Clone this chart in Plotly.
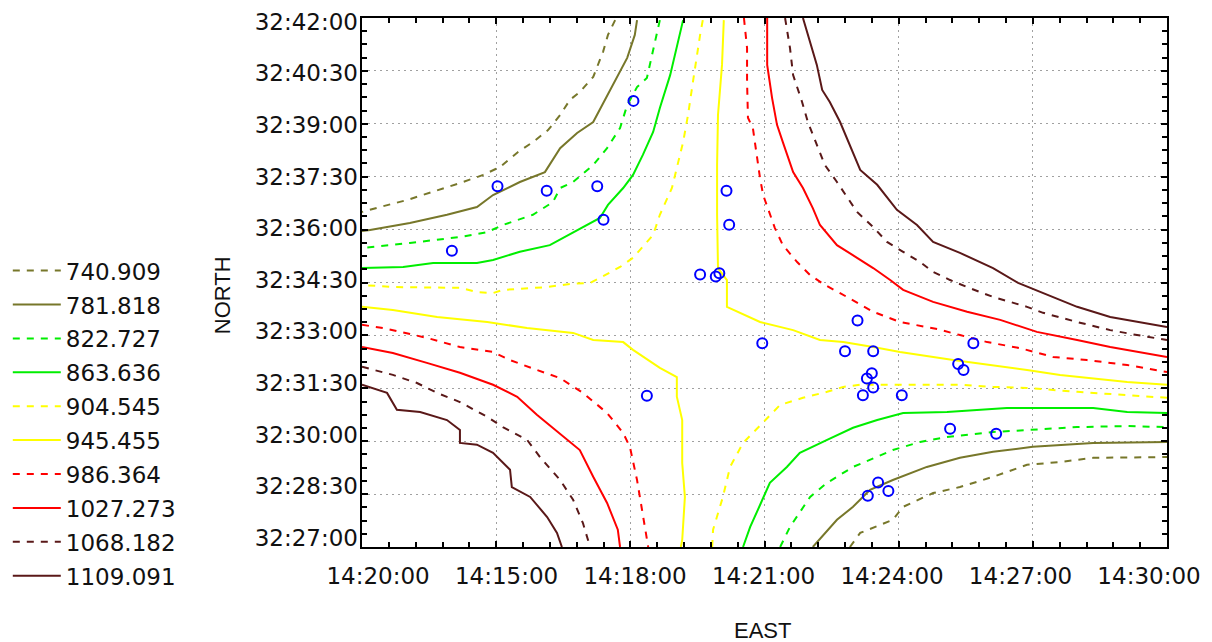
import plotly.graph_objects as go

# ---------------- data (EAST / NORTH in arc-minutes past 14° / 32°) ----------------
LEVELS = [740.909, 781.818, 822.727, 863.636, 904.545,
          945.455, 986.364, 1027.273, 1068.182, 1109.091]

# each contour level: two branches separated by None
c740_east = [17.66, 17.50, 17.39, 17.17, 16.87, 16.65, 16.43, 16.16, 15.82, 15.49, 15.09, 14.71, 14.19, 13.59, 13.01, 12.40, 12.00, None,
             22.91, 23.14, 23.87, 24.10, 24.77, 25.37, 26.11, 26.87, 27.61, 28.35, 30.00]
c740_north = [41.94, 41.52, 41.04, 40.33, 39.90, 39.68, 39.25, 38.82, 38.48, 38.20, 37.78, 37.55, 37.32, 37.07, 36.84, 36.64, 36.50, None,
              27.00, 27.40, 27.77, 28.14, 28.53, 28.70, 28.99, 29.33, 29.41, 29.53, 29.55]

c781_east = [18.15, 18.10, 17.93, 17.61, 17.17, 16.81, 16.43, 16.09, 15.53, 14.93, 14.57, 13.90, 13.07, 12.18, 12.00, None,
             22.08, 22.62, 22.98, 23.36, 23.87, 24.63, 25.37, 26.11, 27.00, 28.35, 30.00]
c781_north = [41.94, 41.52, 40.87, 40.10, 39.05, 38.74, 38.31, 37.63, 37.35, 36.98, 36.64, 36.42, 36.19, 35.99, 35.96, None,
              27.00, 27.77, 28.14, 28.62, 28.90, 29.27, 29.53, 29.70, 29.84, 29.95, 29.98]

c822_east = [18.66, 18.55, 18.37, 18.15, 17.93, 17.77, 17.48, 17.17, 16.72, 16.43, 16.27, 15.82, 15.15, 14.80, 14.19, 13.07, 12.00, None,
             21.35, 21.57, 22.02, 22.40, 22.98, 23.36, 23.87, 24.48, 25.08, 26.11, 27.23, 27.99, 29.11, 30.00]
c822_north = [41.94, 41.32, 40.30, 40.04, 39.53, 38.88, 38.31, 37.83, 37.35, 37.18, 36.78, 36.42, 36.13, 35.93, 35.79, 35.62, 35.48, None,
              27.00, 27.57, 28.42, 28.82, 29.27, 29.47, 29.75, 29.98, 30.12, 30.26, 30.35, 30.40, 30.43, 30.40]

c863_east = [19.18, 19.07, 18.89, 18.66, 18.51, 18.28, 18.06, 17.84, 17.50, 17.32, 16.72, 16.20, 15.53, 14.93, 14.57, 13.59, 12.92, 12.00, None,
             20.52, 20.68, 20.90, 21.12, 21.50, 21.79, 22.40, 22.98, 23.52, 24.10, 25.08, 26.42, 28.35, 29.11, 30.00]
c863_north = [41.94, 41.32, 40.38, 39.45, 38.77, 38.12, 37.55, 37.18, 36.70, 36.33, 35.93, 35.56, 35.37, 35.14, 35.05, 35.05, 34.94, 34.91, None,
              27.00, 27.57, 28.19, 28.82, 29.27, 29.67, 30.04, 30.38, 30.60, 30.80, 30.83, 30.94, 30.94, 30.83, 30.80]

c904_east = [19.62, 19.56, 19.40, 19.29, 19.18, 19.04, 18.93, 18.66, 18.51, 18.06, 17.77, 17.32, 17.10, 16.65, 16.14, 15.15, 14.93, 14.57, 14.19, 12.69, 12.00, None,
             19.83, 19.85, 20.07, 20.23, 20.52, 21.01, 21.35, 21.86, 22.40, 22.76, 23.14, 23.87, 25.37, 26.11, 26.87, 27.99, 29.11, 30.00]
c904_north = [41.94, 41.52, 40.19, 39.25, 38.48, 37.75, 37.18, 36.42, 35.85, 35.20, 34.94, 34.63, 34.49, 34.46, 34.37, 34.29, 34.20, 34.23, 34.35, 34.37, 34.43, None,
              27.00, 27.49, 28.42, 29.27, 29.95, 30.60, 31.03, 31.23, 31.40, 31.54, 31.60, 31.60, 31.60, 31.54, 31.51, 31.40, 31.31, 31.23]

c945_east = [20.09, 20.05, 19.96, 19.94, 19.94, 19.96, 20.16, 20.16, 20.90, 21.64, 22.24, 22.76, 23.43, 24.03, 25.22, 26.11, 26.87, 27.61, 28.35, 29.11, 30.00, None,
             12.00, 12.69, 13.68, 14.80, 15.69, 16.72, 17.17, 17.84, 18.06, 18.66, 19.04, 19.04, 19.16, 19.16, 19.22, 19.16, 19.13]
c945_north = [41.94, 40.67, 39.25, 37.83, 36.42, 34.91, 34.57, 33.81, 33.38, 33.15, 32.87, 32.81, 32.67, 32.53, 32.30, 32.16, 32.02, 31.88, 31.79, 31.68, 31.60, None,
              33.81, 33.72, 33.52, 33.38, 33.21, 33.07, 32.87, 32.81, 32.59, 32.08, 31.82, 31.26, 30.60, 29.38, 28.42, 27.20, 27.00]

c986_east = [20.54, 20.61, 20.61, 20.63, 20.74, 20.83, 20.90, 20.97, 21.12, 21.23, 21.41, 21.73, 22.02, 22.35, 22.69, 23.09, 23.43, 24.03, 24.86, 25.37, 25.98, 26.71, 27.45, 28.21, 29.11, 30.00, None,
             12.00, 12.47, 13.45, 14.19, 14.93, 15.31, 15.91, 16.43, 16.94, 17.48, 17.84, 17.99, 18.15, 18.28, 18.40]
c986_north = [42.00, 41.15, 40.19, 39.17, 38.88, 38.03, 37.46, 36.98, 36.47, 36.05, 35.56, 35.08, 34.71, 34.43, 34.20, 33.92, 33.67, 33.38, 33.18, 33.01, 32.81, 32.64, 32.39, 32.30, 32.16, 31.96, None,
              33.30, 33.21, 32.93, 32.67, 32.53, 32.30, 32.02, 31.79, 31.37, 30.80, 30.23, 29.84, 28.90, 27.97, 27.00]

c1027_east = [21.06, 21.06, 21.17, 21.28, 21.41, 21.64, 21.86, 22.08, 22.24, 22.62, 23.07, 23.43, 23.81, 24.10, 24.77, 25.53, 26.27, 27.09, 27.99, 28.73, 30.00, None,
              12.00, 12.69, 13.45, 14.19, 14.93, 15.47, 15.91, 16.58, 16.87, 17.17, 17.48, 17.72, 17.77]
c1027_north = [42.00, 40.67, 39.73, 38.97, 38.48, 37.63, 37.18, 36.61, 36.13, 35.56, 35.20, 34.91, 34.57, 34.29, 33.95, 33.67, 33.44, 33.10, 32.87, 32.67, 32.39, None,
               32.67, 32.50, 32.22, 31.94, 31.60, 31.26, 30.75, 30.04, 29.75, 28.99, 28.25, 27.49, 27.00]

c1068_east = [21.46, 21.57, 21.64, 21.84, 21.97, 22.20, 22.35, 22.62, 22.84, 23.07, 23.43, 23.74, 24.10, 24.48, 24.77, 25.15, 25.53, 26.11, 26.87, 27.23, 27.99, 28.73, 29.33, 30.00, None,
              12.00, 12.69, 13.23, 13.68, 14.19, 14.80, 15.15, 15.69, 15.98, 16.43, 16.72, 16.94, 17.10]
c1068_north = [42.00, 41.15, 40.38, 39.62, 39.05, 38.31, 37.83, 37.35, 36.93, 36.50, 36.07, 35.65, 35.37, 35.08, 34.80, 34.57, 34.37, 34.09, 33.81, 33.64, 33.38, 33.15, 33.01, 32.87, None,
               32.11, 31.88, 31.65, 31.37, 31.11, 30.69, 30.40, 30.04, 29.55, 28.90, 28.34, 27.68, 27.00]

c1109_east = [21.86, 22.02, 22.17, 22.29, 22.46, 22.69, 22.91, 23.14, 23.52, 23.96, 24.41, 24.77, 25.37, 26.11, 26.67, 27.23, 27.99, 28.73, 29.33, 30.00, None,
              12.00, 12.56, 12.78, 13.30, 13.90, 14.19, 14.19, 14.57, 14.93, 15.31, 15.35, 15.76, 16.14, 16.36, 16.47]
c1109_north = [42.00, 41.32, 40.67, 39.96, 39.62, 39.05, 38.40, 37.69, 37.27, 36.56, 36.13, 35.65, 35.34, 34.91, 34.49, 34.20, 33.81, 33.52, 33.38, 33.24, None,
               31.60, 31.37, 30.89, 30.83, 30.60, 30.32, 29.95, 29.90, 29.67, 29.19, 28.70, 28.42, 27.85, 27.40, 27.00]

# sample stations
station_east = [18.07, 15.03, 16.13, 17.26, 17.40, 14.01, 20.15, 20.21, 19.56, 19.91, 19.99,
                18.37, 20.95, 23.08, 22.80, 23.43, 25.67, 25.33, 25.45, 23.40, 23.29,
                23.43, 23.20, 24.07, 25.15, 26.18, 23.54, 23.77, 23.31]
station_north = [39.65, 37.23, 37.10, 37.23, 36.28, 35.40, 37.10, 36.14, 34.73, 34.67, 34.76,
                 31.29, 32.78, 33.42, 32.55, 32.55, 32.78, 32.19, 32.02, 31.93, 31.78,
                 31.52, 31.30, 31.30, 30.35, 30.21, 28.83, 28.59, 28.45]

east_ticktext = ["14:20:00", "14:15:00", "14:18:00", "14:21:00", "14:24:00", "14:27:00", "14:30:00"]
north_ticktext = ["32:42:00", "32:40:30", "32:39:00", "32:37:30", "32:36:00", "32:34:30",
                  "32:33:00", "32:31:30", "32:30:00", "32:28:30", "32:27:00"]

# ---------------- styles ----------------
contours = [
    (c740_east, c740_north, "#77772a", "7px,7px"),
    (c781_east, c781_north, "#77772a", "solid"),
    (c822_east, c822_north, "#00ee00", "7px,7px"),
    (c863_east, c863_north, "#00ee00", "solid"),
    (c904_east, c904_north, "#ffff00", "7px,7px"),
    (c945_east, c945_north, "#ffff00", "solid"),
    (c986_east, c986_north, "#ff0000", "7px,7px"),
    (c1027_east, c1027_north, "#ff0000", "solid"),
    (c1068_east, c1068_north, "#5a1818", "7px,7px"),
    (c1109_east, c1109_north, "#5a1818", "solid"),
]

fig = go.Figure()
for lvl, (ex, ny, col, dash) in zip(LEVELS, contours):
    fig.add_trace(go.Scatter(
        x=ex, y=ny, mode="lines", name=f"{lvl:.3f}",
        line=dict(color=col, width=2, dash=dash),
        legendgroup=f"{lvl}", connectgaps=False, hoverinfo="skip"))

fig.add_trace(go.Scatter(
    x=station_east, y=station_north, mode="markers", showlegend=False,
    marker=dict(symbol="circle-open", size=10, color="#0000ff", line=dict(width=2, color="#0000ff"))))

# placeholder trace that binds the label axes
fig.add_trace(go.Scatter(x=[None], y=[None], xaxis="x2", yaxis="y2", showlegend=False, hoverinfo="skip"))

tick_font = dict(family="DejaVu Sans", size=23, color="#111111")

x_label_pos = [12.36 + 2.873 * i for i in range(len(east_ticktext))]
y_label_pos = [41.895 - 1.4635 * i for i in range(len(north_ticktext))]

axis_common = dict(showline=True, linewidth=2, linecolor="black", mirror="allticks",
                   ticks="inside", ticklen=6, tickwidth=1.5, tickcolor="black",
                   showticklabels=False, showgrid=True, gridcolor="#a0a0a0", gridwidth=1,
                   griddash="2px,4px", zeroline=False, automargin=False)

fig.update_layout(
    width=1204, height=634,
    margin=dict(l=354, r=45, t=10, b=95, autoexpand=False),
    plot_bgcolor="white", paper_bgcolor="white",
    xaxis=dict(range=[12, 30], tickmode="array", tickvals=[12, 15, 18, 21, 24, 27, 30],
               minor=dict(ticks="inside", ticklen=5, tickwidth=1.5, tickcolor="black",
                          tick0=12, dtick=0.6, showgrid=False), **axis_common),
    yaxis=dict(range=[27, 42], tickmode="array",
               tickvals=[27, 28.5, 30, 31.5, 33, 34.5, 36, 37.5, 39, 40.5, 42],
               minor=dict(ticks="inside", ticklen=5, tickwidth=1.5, tickcolor="black",
                          tick0=27, dtick=0.375, showgrid=False), **axis_common),
    xaxis2=dict(overlaying="x", anchor="y2", side="bottom", range=[12, 30],
                tickmode="array", tickvals=x_label_pos, ticktext=east_ticktext,
                showgrid=False, zeroline=False, showline=False, ticks="",
                tickfont=tick_font, ticklabelstandoff=13, automargin=False),
    yaxis2=dict(overlaying="y", anchor="x2", side="left", range=[27, 42],
                tickmode="array", tickvals=y_label_pos, ticktext=north_ticktext,
                showgrid=False, zeroline=False, showline=False, ticks="",
                tickfont=tick_font, ticklabelstandoff=3, automargin=False),
    legend=dict(x=-0.44, y=0.563, xanchor="left", yanchor="top",
                font=dict(family="DejaVu Sans", size=23, color="#111111"),
                bgcolor="rgba(0,0,0,0)", tracegroupgap=1, itemwidth=48),
    annotations=[
        dict(text="NORTH", xref="paper", yref="paper", x=-0.174, y=0.476,
             xanchor="center", yanchor="middle", textangle=-90, showarrow=False,
             font=dict(family="Liberation Sans", size=22, color="#111111")),
        dict(text="EAST", xref="paper", yref="paper", x=0.498, y=-0.157,
             xanchor="center", yanchor="middle", showarrow=False,
             font=dict(family="Liberation Sans", size=22, color="#111111")),
    ],
    showlegend=True,
)

fig.write_html("out.html")
